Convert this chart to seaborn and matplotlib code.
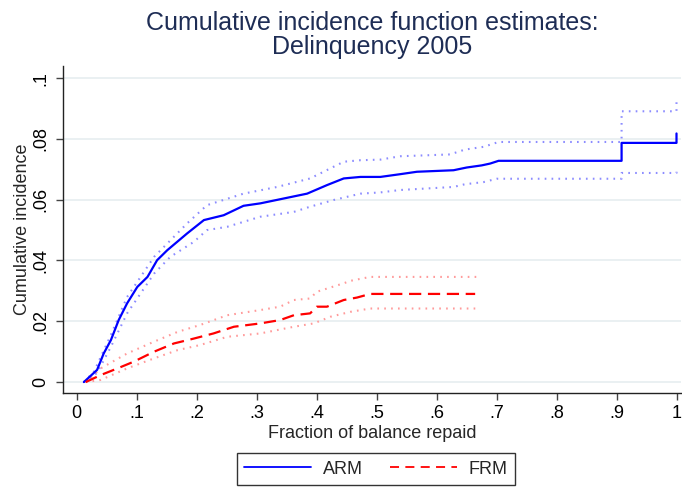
import numpy as np
import pandas as pd
import seaborn as sns
from matplotlib import pyplot as plt
from matplotlib.lines import Line2D

# ARM (adjustable rate) cumulative incidence + 95% band
arm_x = [0.012, 0.034, 0.045, 0.057, 0.070, 0.084, 0.101, 0.118, 0.134, 0.151, 0.184, 0.212, 0.245,
         0.278, 0.306, 0.345, 0.384, 0.417, 0.445, 0.473, 0.506, 0.539, 0.567, 0.628, 0.650, 0.675,
         0.689, 0.703, 0.908, 0.908, 0.9995, 0.9995]
arm_y = [0, 0.0040, 0.0094, 0.0138, 0.0204, 0.0259, 0.0313, 0.0346, 0.0401, 0.0434, 0.0489, 0.0533, 0.0549,
         0.0580, 0.0588, 0.0604, 0.0620, 0.0648, 0.0670, 0.0675, 0.0675, 0.0684, 0.0692, 0.0697, 0.0706, 0.0713,
         0.0719, 0.0728, 0.0728, 0.0787, 0.0787, 0.0818]

arm_hi_x = [0.012, 0.029, 0.057, 0.084, 0.129, 0.184, 0.217, 0.278, 0.334, 0.389, 0.445, 0.473, 0.506,
            0.539, 0.622, 0.647, 0.678, 0.703, 0.908, 0.908, 0.9995, 0.9995]
arm_hi_y = [0, 0.0035, 0.0155, 0.0280, 0.0412, 0.0522, 0.0582, 0.0620, 0.0642, 0.0670, 0.0725, 0.0730, 0.0732,
            0.0743, 0.0749, 0.0765, 0.0774, 0.0790, 0.0790, 0.0891, 0.0891, 0.0930]

arm_lo_x = [0.012, 0.034, 0.057, 0.084, 0.129, 0.156, 0.195, 0.217, 0.251, 0.306, 0.362, 0.389, 0.428,
            0.473, 0.506, 0.539, 0.628, 0.647, 0.678, 0.700, 0.908, 0.908, 0.9995, 0.9995]
arm_lo_y = [0, 0.0030, 0.0116, 0.0226, 0.0357, 0.0412, 0.0461, 0.0500, 0.0511, 0.0544, 0.0560, 0.0577, 0.0599,
            0.0620, 0.0624, 0.0632, 0.0642, 0.0651, 0.0658, 0.0669, 0.0669, 0.0688, 0.0688, 0.0692]

# FRM (fixed rate)
frm_x = [0.015, 0.040, 0.068, 0.095, 0.129, 0.162, 0.195, 0.228, 0.262, 0.306, 0.339, 0.362, 0.389,
         0.400, 0.417, 0.445, 0.467, 0.489, 0.664]
frm_y = [0, 0.0023, 0.0045, 0.0067, 0.0100, 0.0127, 0.0143, 0.0160, 0.0182, 0.0193, 0.0204, 0.0220, 0.0226,
         0.0248, 0.0248, 0.0270, 0.0278, 0.0290, 0.0290]

frm_hi_x = [0.015, 0.040, 0.084, 0.129, 0.168, 0.206, 0.251, 0.306, 0.339, 0.362, 0.389, 0.400, 0.445,
            0.456, 0.489, 0.669]
frm_hi_y = [0, 0.0045, 0.0094, 0.0133, 0.0165, 0.0188, 0.0220, 0.0237, 0.0248, 0.0270, 0.0275, 0.0297, 0.0325,
            0.0333, 0.0346, 0.0346]

frm_lo_x = [0.015, 0.040, 0.084, 0.129, 0.168, 0.206, 0.251, 0.306, 0.362, 0.395, 0.423, 0.456, 0.489, 0.669]
frm_lo_y = [0, 0.0007, 0.0045, 0.0078, 0.0105, 0.0122, 0.0149, 0.0160, 0.0182, 0.0193, 0.0215, 0.0231,
            0.0242, 0.0242]

xticks = [0, .1, .2, .3, .4, .5, .6, .7, .8, .9, 1]
xtick_labels = ['0', '.1', '.2', '.3', '.4', '.5', '.6', '.7', '.8', '.9', '1']
yticks = [0, .02, .04, .06, .08, .1]
ytick_labels = ['0', '.02', '.04', '.06', '.08', '.1']

sns.set_style('white')
plt.rcParams['font.family'] = ['Liberation Sans', 'DejaVu Sans']

blue = '#0000ff'
red = '#ff0000'
blue_ci = '#8c8cff'
red_ci = '#ff9a9a'

fig = plt.figure(figsize=(6.82, 4.87), dpi=100)
ax = fig.add_axes([63 / 682, 1 - 393 / 487, 618 / 682, (393 - 66) / 487])

dot = (0.8, 2.5)
dash = (5.5, 3)
series = [
    (arm_hi_x, arm_hi_y, blue_ci, dot, 1.5),
    (arm_lo_x, arm_lo_y, blue_ci, dot, 1.5),
    (frm_hi_x, frm_hi_y, red_ci, dot, 1.5),
    (frm_lo_x, frm_lo_y, red_ci, dot, 1.5),
    (arm_x, arm_y, blue, None, 1.6),
    (frm_x, frm_y, red, dash, 1.6),
]
for xs, ys, col, pattern, lw in series:
    ls = '-' if pattern is None else (0, pattern)
    sns.lineplot(x=xs, y=ys, ax=ax, color=col, linestyle=ls, linewidth=lw,
                 estimator=None, sort=False, errorbar=None)

ax.set_xlim(-0.0228, 1.007)
ax.set_ylim(-0.0036, 0.104)
ax.set_xticks(xticks)
ax.set_xticklabels(xtick_labels)
ax.set_yticks(yticks)
ax.set_yticklabels(ytick_labels, rotation=90, va='center')

ax.yaxis.grid(True, color='#e6eef0', linewidth=1.2)
ax.xaxis.grid(False)
ax.set_axisbelow(True)

sns.despine(ax=ax, top=True, right=True)
for s in ['left', 'bottom']:
    ax.spines[s].set_color('#222222')
    ax.spines[s].set_linewidth(1.0)
ax.tick_params(axis='both', direction='out', length=5, width=1, color='#444444',
               labelsize=13, labelcolor='black', bottom=True, left=True)
ax.tick_params(axis='y', pad=5)
ax.tick_params(axis='x', pad=4)

ax.set_xlabel('Fraction of balance repaid', fontsize=13, labelpad=2)
ax.set_ylabel('Cumulative incidence', fontsize=13, labelpad=1)

fig.suptitle('Cumulative incidence function estimates:\nDelinquency 2005', x=(63 + 681) / 2 / 682,
             y=1 - 11 / 487, va='top', fontsize=18, color='#1e2d55', linespacing=1.0)

handles = [Line2D([], [], color=blue, linestyle='-', linewidth=1.3),
           Line2D([], [], color=red, linestyle=(0, (5, 3.5)), linewidth=1.3)]
leg = fig.legend(handles, ['ARM', 'FRM'], ncol=2, loc='center', bbox_to_anchor=(376 / 682, 1 - 469 / 487),
                 frameon=True, fancybox=False, edgecolor='black', fontsize=13, handlelength=3.7,
                 columnspacing=1.5, borderpad=0.4, handletextpad=0.65, borderaxespad=0)
leg.get_frame().set_linewidth(1.0)

plt.savefig('out.png', dpi=100)
